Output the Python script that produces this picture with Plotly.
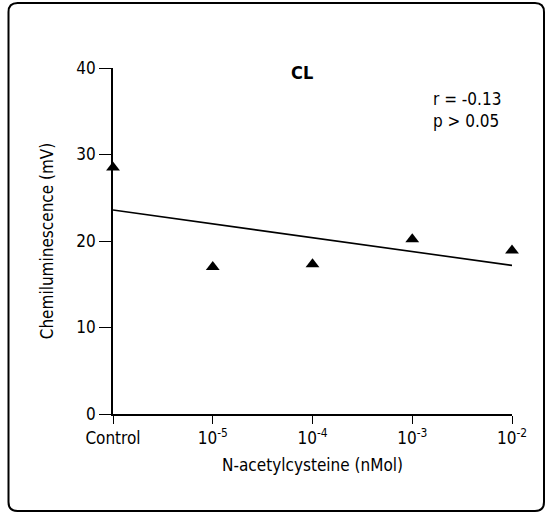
import numpy as np
import plotly.graph_objects as go

categories = ["Control", "1e-5", "1e-4", "1e-3", "1e-2"]
tick_labels = ["Control", "10<sup>-5</sup>", "10<sup>-4</sup>", "10<sup>-3</sup>", "10<sup>-2</sup>"]
cl_values = [28.5, 17.0, 17.3, 20.2, 18.9]
y_ticks = [0, 10, 20, 30, 40]

xpos = np.arange(len(categories))
slope, intercept = np.polyfit(xpos, cl_values, 1)
fit_x = [xpos[0], xpos[-1]]
fit_y = [intercept + slope * xpos[0], intercept + slope * xpos[-1]]

FONT = "DejaVu Sans Condensed, Liberation Sans Narrow, Liberation Sans, Arial, sans-serif"

W, H = 548, 514
L, R, T, B = 113, 512, 68, 414   # plot area edges in pixels
PW, PH = R - L, B - T

fig = go.Figure()
fig.add_trace(go.Scatter(x=fit_x, y=fit_y, mode="lines",
                         line=dict(color="black", width=1.6), showlegend=False))
fig.add_trace(go.Scatter(x=xpos, y=cl_values, mode="markers",
                         marker=dict(symbol="triangle-up", size=12, color="black"),
                         showlegend=False, cliponaxis=False))

fig.update_layout(
    width=W, height=H,
    margin=dict(l=L, r=W - R, t=T, b=H - B),
    paper_bgcolor="white", plot_bgcolor="white",
    font=dict(family=FONT, color="black", size=16),
    xaxis=dict(range=[0, 4], tickmode="array", tickvals=list(xpos), ticktext=tick_labels,
               showgrid=False, zeroline=False, showline=True, linecolor="black", linewidth=1.6,
               ticks="outside", ticklen=8, tickcolor="black", tickwidth=1.4,
               tickfont=dict(size=17),
               title=dict(text="N-acetylcysteine (nMol)", font=dict(size=17), standoff=12)),
    yaxis=dict(range=[0, 40], tickmode="array", tickvals=y_ticks,
               showgrid=False, zeroline=False, showline=True, linecolor="black", linewidth=1.6,
               ticks="outside", ticklen=12, tickcolor="black", tickwidth=1.4,
               tickfont=dict(size=17),
               title=dict(text="Chemiluminescence (mV)", font=dict(size=17), standoff=18)),
)

fig.add_annotation(text="<b>CL</b>", x=(302 - L) / PW, y=(B - 72) / PH, xref="paper", yref="paper",
                   showarrow=False, font=dict(size=18), xanchor="center", yanchor="middle")
fig.add_annotation(text="r = -0.13<br>p > 0.05", x=(431 - L) / PW, y=(B - 110) / PH,
                   xref="paper", yref="paper",
                   showarrow=False, font=dict(size=17), xanchor="left", yanchor="middle", align="left")

# rounded frame around the figure (paper coords relative to plot area)
x0, x1 = (8.5 - L) / PW, (544 - L) / PW
y0, y1 = (B - 511) / PH, (B - 3) / PH
rx, ry = 9 / PW, 9 / PH
path = (f"M {x0+rx},{y1} L {x1-rx},{y1} Q {x1},{y1} {x1},{y1-ry} "
        f"L {x1},{y0+ry} Q {x1},{y0} {x1-rx},{y0} L {x0+rx},{y0} Q {x0},{y0} {x0},{y0+ry} "
        f"L {x0},{y1-ry} Q {x0},{y1} {x0+rx},{y1} Z")
fig.add_shape(type="path", path=path, xref="paper", yref="paper",
              line=dict(color="black", width=2))

fig.write_html("out.html", config={"displayModeBar": False},
               post_script="document.body.style.margin='0';document.body.style.overflow='hidden';")
